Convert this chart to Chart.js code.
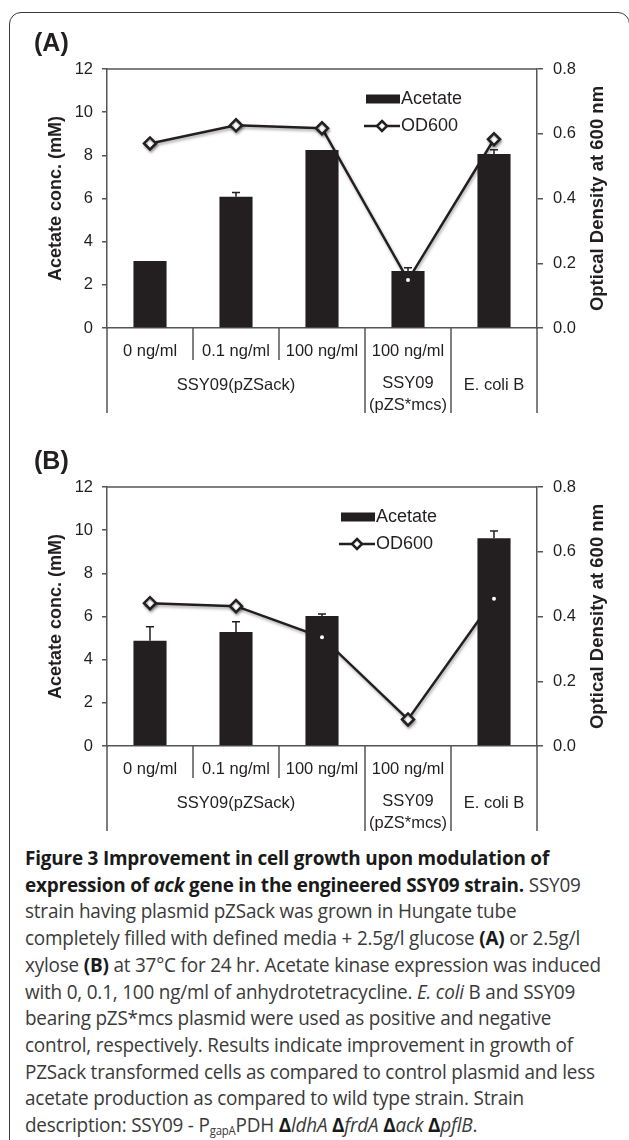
<!DOCTYPE html>
<html>
<head>
<meta charset="utf-8">
<script src="https://cdn.jsdelivr.net/npm/chart.js@4.4.1/dist/chart.umd.min.js"></script>
<style>
  html, body { margin: 0; padding: 0; background: #fff; }
  body { width: 629px; height: 1140px; position: relative; overflow: hidden; }
  .frame { position: absolute; left: 9px; top: 12px; width: 621px; height: 1200px;
           border: 1.5px solid #3a3a3a; border-radius: 12px; box-sizing: border-box; }
  .panel { position: absolute; left: 0; }
  #panelA { top: 0; }
  #panelB { top: 418px; }
  .tag { position: absolute; left: 34px; font: bold 25px "Liberation Sans", Arial, sans-serif; color: #231f20; }
  .caption { position: absolute; left: 25px; top: 845px; white-space: nowrap;
             font-family: "Open Sans", sans-serif; font-size: 20px; line-height: 26.7px;
             letter-spacing: -0.2px; color: #3a3a3a;
             transform: scaleX(0.945); transform-origin: 0 0; }
  .caption b { color: #1a1a1a; }
  .caption sub { font-size: 12px; vertical-align: -3px; line-height: 0; }
</style>
</head>
<body>
<div class="frame"></div>
<canvas id="panelA" class="panel" width="629" height="420"></canvas>
<canvas id="panelB" class="panel" width="629" height="420"></canvas>
<div class="tag" style="top:28px">(A)</div>
<div class="tag" style="top:446px">(B)</div>
<div class="caption">
<b>Figure 3 Improvement in cell growth upon modulation of</b><br>
<b>expression of <i>ack</i> gene in the engineered SSY09 strain.</b> SSY09<br>
strain having plasmid pZSack was grown in Hungate tube<br>
completely filled with defined media + 2.5g/l glucose <b>(A)</b> or 2.5g/l<br>
xylose <b>(B)</b> at 37°C for 24 hr. Acetate kinase expression was induced<br>
with 0, 0.1, 100 ng/ml of anhydrotetracycline. <i>E. coli</i> B and SSY09<br>
bearing pZS*mcs plasmid were used as positive and negative<br>
control, respectively. Results indicate improvement in growth of<br>
PZSack transformed cells as compared to control plasmid and less<br>
acetate production as compared to wild type strain. Strain<br>
description: SSY09 - P<sub>gapA</sub>PDH <b>Δ</b><i>ldhA</i> <b>Δ</b><i>frdA</i> <b>Δ</b><i>ack</i> <b>Δ</b><i>pflB</i>.
</div>
<script>
// categories
var doseLabels = ['0 ng/ml', '0.1 ng/ml', '100 ng/ml', '100 ng/ml', ''];
var strainLabels = ['SSY09(pZSack)', ['SSY09', '(pZS*mcs)'], 'E. coli B'];
var strainSpans = [3, 1, 1];

// panel A (glucose)
var acetateA = [3.10, 6.08, 8.25, 2.64, 8.06];
var acetateErrA = [0, 0.20, 0, 0.15, 0.20];
var odA = [0.570, 0.626, 0.617, 0.148, 0.583];

// panel B (xylose)
var acetateB = [4.88, 5.28, 6.02, 0, 9.62];
var acetateErrB = [0.65, 0.48, 0.10, 0, 0.34];
var odB = [0.441, 0.432, 0.336, 0.082, 0.455];

var acetateTicks = [0, 2, 4, 6, 8, 10, 12];
var odTicks = [0, 0.2, 0.4, 0.6, 0.8];

var FONT = '"Liberation Sans", Arial, sans-serif';
var INK = '#231f20';
var AXIS = '#555';

// error bars on top of the acetate bars
var errorBars = {
    id: 'errorBars',
    afterDatasetsDraw: function(chart, args, opts) {
        var ctx = chart.ctx;
        var meta = chart.getDatasetMeta(0);
        var ys = chart.scales.y;
        var vals = chart.data.datasets[0].data;
        ctx.save();
        ctx.strokeStyle = INK;
        ctx.lineWidth = 1.5;
        meta.data.forEach(function(bar, i) {
            var e = opts.err[i];
            if (!e) return;
            var top = ys.getPixelForValue(vals[i] + e);
            ctx.beginPath();
            ctx.moveTo(bar.x, bar.y);
            ctx.lineTo(bar.x, top);
            ctx.moveTo(bar.x - 4, top);
            ctx.lineTo(bar.x + 4, top);
            ctx.stroke();
        });
        ctx.restore();
    }
};

// soft shadow under the OD line, like the original
var lineShadow = {
    id: 'lineShadow',
    beforeDatasetDraw: function(chart, args) {
        if (args.index !== 1) return;
        var ctx = chart.ctx;
        ctx.save();
        ctx.shadowColor = 'rgba(0,0,0,0.35)';
        ctx.shadowBlur = 3;
        ctx.shadowOffsetX = 1;
        ctx.shadowOffsetY = 2;
    },
    afterDatasetDraw: function(chart, args) {
        if (args.index !== 1) return;
        chart.ctx.restore();
    }
};

// plot frame top, category separators, strain row, right axis title
var categoryBox = {
    id: 'categoryBox',
    afterDraw: function(chart) {
        var ctx = chart.ctx;
        var a = chart.chartArea;
        var xs = chart.scales.x;
        var n = chart.data.labels.length;
        var edges = [a.left];
        for (var i = 1; i < n; i++) {
            edges.push((xs.getPixelForTick(i - 1) + xs.getPixelForTick(i)) / 2);
        }
        edges.push(a.right);

        var groupEdges = [0];
        strainSpans.forEach(function(s) { groupEdges.push(groupEdges[groupEdges.length - 1] + s); });

        ctx.save();
        ctx.strokeStyle = AXIS;
        ctx.lineWidth = 1.5;
        ctx.beginPath();
        ctx.moveTo(a.left, a.top);
        ctx.lineTo(a.right, a.top);
        edges.forEach(function(x, i) {
            var full = groupEdges.indexOf(i) >= 0;
            ctx.moveTo(x, a.bottom);
            ctx.lineTo(x, a.bottom + (full ? 85 : 32));
        });
        ctx.stroke();

        ctx.fillStyle = INK;
        ctx.font = '16.5px ' + FONT;
        ctx.textAlign = 'center';
        ctx.textBaseline = 'middle';
        strainLabels.forEach(function(lab, g) {
            var cx = (edges[groupEdges[g]] + edges[groupEdges[g + 1]]) / 2;
            if (Array.isArray(lab)) {
                ctx.fillText(lab[0], cx, a.bottom + 55);
                ctx.fillText(lab[1], cx, a.bottom + 77);
            } else {
                ctx.fillText(lab, cx, a.bottom + 57);
            }
        });

        // right title reads bottom-to-top, as on the left
        ctx.translate(chart.width - 31, (a.top + a.bottom) / 2);
        ctx.rotate(-Math.PI / 2);
        ctx.font = 'bold 18.5px ' + FONT;
        ctx.fillText('Optical Density at 600 nm', 0, 0);
        ctx.restore();
    }
};

// legend inside the plot area
var panelLegend = {
    id: 'panelLegend',
    afterDraw: function(chart, args, opts) {
        var ctx = chart.ctx;
        var a = chart.chartArea;
        var x = opts.x;
        var y1 = a.top + 30, y2 = a.top + 57;
        var ds = chart.data.datasets;
        ctx.save();
        ctx.fillStyle = ds[0].backgroundColor;
        ctx.fillRect(x - 35, y1 - 4.5, 34, 9);
        ctx.strokeStyle = ds[1].borderColor;
        ctx.lineWidth = ds[1].borderWidth;
        ctx.beginPath();
        ctx.moveTo(x - 37, y2);
        ctx.lineTo(x - 1, y2);
        ctx.stroke();
        ctx.fillStyle = '#fff';
        ctx.lineWidth = 2.5;
        ctx.beginPath();
        ctx.moveTo(x - 19, y2 - 5);
        ctx.lineTo(x - 14, y2);
        ctx.lineTo(x - 19, y2 + 5);
        ctx.lineTo(x - 24, y2);
        ctx.closePath();
        ctx.fill();
        ctx.stroke();
        ctx.fillStyle = INK;
        ctx.font = '18px ' + FONT;
        ctx.textAlign = 'left';
        ctx.textBaseline = 'middle';
        ctx.fillText(ds[0].label, x, y1);
        ctx.fillText(ds[1].label, x, y2);
        ctx.restore();
    }
};

function makePanel(id, acetate, err, od, legendX) {
    var ctx = document.getElementById(id);
    return new Chart(ctx, {
        type: 'bar',
        data: {
            labels: doseLabels,
            datasets: [{
                label: 'Acetate',
                data: acetate,
                backgroundColor: INK,
                barPercentage: 0.385,
                categoryPercentage: 1,
                yAxisID: 'y',
                order: 1
            }, {
                type: 'line',
                label: 'OD600',
                data: od,
                yAxisID: 'y1',
                borderColor: INK,
                borderWidth: 2.5,
                pointStyle: 'rectRot',
                pointRadius: 6,
                pointBorderWidth: 2.5,
                pointBackgroundColor: '#fff',
                pointBorderColor: INK,
                order: 2
            }, {
                type: 'line',
                label: 'OD600 centre',
                data: od,
                yAxisID: 'y1',
                showLine: false,
                pointRadius: 2,
                pointBorderWidth: 0,
                pointBackgroundColor: '#fff',
                order: 0
            }]
        },
        options: {
            responsive: false,
            animation: false,
            layout: { padding: { top: 69, left: 0, right: 0, bottom: 0 } },
            plugins: {
                legend: { display: false },
                tooltip: { enabled: false },
                errorBars: { err: err },
                panelLegend: { x: legendX }
            },
            scales: {
                x: {
                    grid: { display: false, drawTicks: false },
                    border: { display: true, color: AXIS, width: 1.5 },
                    ticks: { font: { family: FONT, size: 16.5 }, color: INK, padding: 14, maxRotation: 0, autoSkip: false },
                    afterFit: function(s) { s.height = 92; }
                },
                y: {
                    position: 'left',
                    min: 0,
                    max: 12,
                    afterBuildTicks: function(s) { s.ticks = acetateTicks.map(function(v) { return { value: v }; }); },
                    ticks: { font: { family: FONT, size: 16.5 }, color: INK, padding: 9 },
                    grid: { drawOnChartArea: false, drawTicks: true, tickLength: 5, color: AXIS, lineWidth: 1.5 },
                    border: { display: true, color: AXIS, width: 1.5 },
                    title: {
                        display: true,
                        text: 'Acetate conc. (mM)',
                        color: INK,
                        font: { family: FONT, size: 18, weight: 'bold' },
                        padding: { top: 45, bottom: 0 }
                    },
                    afterFit: function(s) { s.width = 107; }
                },
                y1: {
                    position: 'right',
                    min: 0,
                    max: 0.8,
                    afterBuildTicks: function(s) { s.ticks = odTicks.map(function(v) { return { value: v }; }); },
                    ticks: {
                        font: { family: FONT, size: 16.5 }, color: INK, padding: 10,
                        callback: function(v) { return v.toFixed(1); }
                    },
                    grid: { drawOnChartArea: false, drawTicks: true, tickLength: 6, color: AXIS, lineWidth: 1.5 },
                    border: { display: true, color: AXIS, width: 1.5 },
                    afterFit: function(s) { s.width = 92; }
                }
            }
        },
        plugins: [errorBars, lineShadow, categoryBox, panelLegend]
    });
}

makePanel('panelA', acetateA, acetateErrA, odA, 401);
makePanel('panelB', acetateB, acetateErrB, odB, 376);
</script>
</body>
</html>
